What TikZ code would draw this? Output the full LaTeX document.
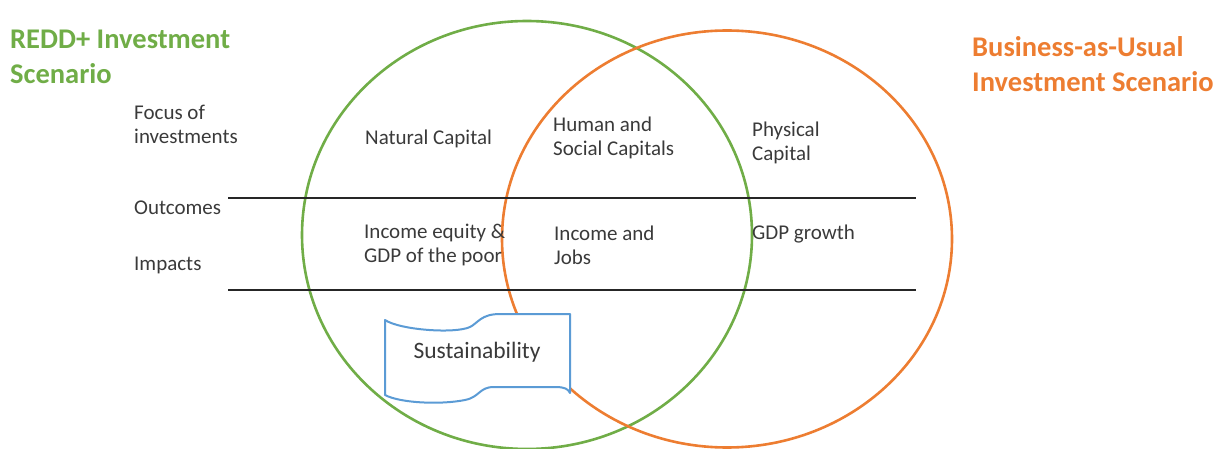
\documentclass[tikz,border=0pt]{standalone}
\usepackage{fontspec}
\setmainfont{Carlito}
\usetikzlibrary{shapes.geometric}
\definecolor{reddgreen}{HTML}{70AD47}
\definecolor{bauorange}{HTML}{ED7D31}
\definecolor{banblue}{HTML}{5B9BD5}
\definecolor{txtgray}{HTML}{3A3A3A}
\tikzset{
  lbl/.style={anchor=west, inner sep=0pt, align=left, text=txtgray, font=\fontsize{21}{24}\selectfont},
  ttl/.style={anchor=west, inner sep=0pt, align=left, font=\fontsize{28.5}{35}\selectfont\bfseries},
  venn/.style={ellipse, draw, line width=2.6pt, inner sep=0pt},
  rule/.style={line width=2.6pt, draw=black!85},
  banner/.style={draw=banblue, fill=white, line width=2pt, line join=round}
}
\begin{document}
\begin{tikzpicture}[x=1pt,y=-1pt]
\useasboundingbox (0,0) rectangle (1216,449);
% Venn ellipses
\node[venn, draw=reddgreen, minimum width=450pt, minimum height=428pt] (redd) at (527,235) {};
\node[venn, draw=bauorange, minimum width=450pt, minimum height=417pt] (bau) at (727,239) {};
% horizontal rules
\coordinate (r1a) at (228,198);
\coordinate (r1b) at (916,198);
\coordinate (r2a) at (228,290);
\coordinate (r2b) at (916,290);
\draw[rule] (r1a) -- (r1b);
\draw[rule] (r2a) -- (r2b);
% titles
\node[ttl, text=reddgreen] (t1) at (10,57) {REDD+ Investment\\Scenario};
\node[ttl, text=bauorange] (t2) at (972,64) {Business-as-Usual\\Investment Scenario};
% row labels
\node[lbl] (focus) at (134,124) {Focus of\\investments};
\node[lbl] (outc) at (134,208) {Outcomes};
\node[lbl] (imp) at (134,265) {Impacts};
% cells
\node[lbl] (nat) at (365,139) {Natural Capital};
\node[lbl] (hum) at (553,138) {Human and\\Social Capitals};
\node[lbl] (phy) at (752,143) {Physical\\Capital};
\node[lbl] (ineq) at (364,245) {Income equity \&\\GDP of the poor};
\node[lbl] (inj) at (554,245) {Income and\\Jobs};
\node[lbl] (gdp) at (752,234) {GDP growth};
% banner
\draw[banner] (385,320) .. controls (400,330) and (455,334) .. (470,327)
  .. controls (478,323) and (481,314) .. (500,314) -- (570,314) -- (570,393)
  .. controls (568,389) and (565,387) .. (555,387) -- (494,387)
  .. controls (479,387) and (480,397) .. (465,400)
  .. controls (440,405) and (400,403) .. (385,395) -- cycle;
\node[lbl, anchor=center, font=\fontsize{23.5}{28}\selectfont] (sus) at (477,352) {Sustainability};
\end{tikzpicture}
\end{document}
